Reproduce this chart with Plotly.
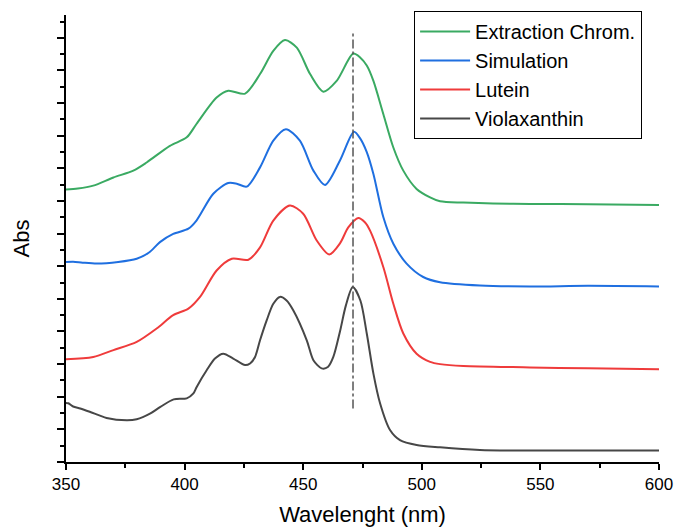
import plotly.graph_objects as go

# ---- data (wavelength in nm, absorbance in offset arbitrary units) ----
green_x = [350, 355, 361.5, 370, 378.4, 384, 393.8, 400.9, 405, 413.5, 418.4, 425.5, 431.8, 437.4,
           442.3, 447.3, 452.9, 458.5, 464.1, 471.1, 474, 476.8, 479.6, 483.8, 488, 492.2, 497.8, 503.5,
           507.7, 517.5, 530, 545.6, 570, 600]
green_y = [0.835, 0.838, 0.847, 0.872, 0.893, 0.918, 0.969, 0.995, 1.036, 1.117, 1.138, 1.129, 1.189,
           1.260, 1.293, 1.270, 1.189, 1.135, 1.168, 1.252, 1.240, 1.215, 1.168, 1.066, 0.964, 0.893,
           0.837, 0.811, 0.799, 0.795, 0.792, 0.791, 0.790, 0.788]

blue_x = [350, 353, 357, 363, 372, 379.8, 385, 389.6, 395.2, 401.6, 405, 412.1, 418.4, 422, 426.2,
          431.8, 437.4, 442.7, 448.6, 454.3, 459.2, 465.5, 471.4, 474, 476.8, 479.6, 483.8, 488, 493.6,
          500.6, 507.7, 524.5, 545.6, 570, 600]
blue_y = [0.613, 0.614, 0.611, 0.608, 0.613, 0.623, 0.642, 0.674, 0.699, 0.715, 0.740, 0.822, 0.855,
          0.853, 0.844, 0.903, 0.985, 1.020, 0.985, 0.893, 0.849, 0.924, 1.012, 0.992, 0.950, 0.883,
          0.750, 0.669, 0.608, 0.567, 0.551, 0.541, 0.538, 0.540, 0.538]

red_x = [350, 361.5, 370, 379.8, 388.2, 395.2, 401.6, 406.5, 413.5, 419.9, 426.9, 431.8, 437.4, 444.4,
         450, 455.7, 461, 465.5, 469, 473.2, 476, 478.2, 483.8, 488, 492.2, 497.8, 503.5, 507.7, 517.5,
         545.6, 570, 600]
red_y = [0.315, 0.322, 0.343, 0.368, 0.409, 0.450, 0.470, 0.506, 0.587, 0.623, 0.620, 0.658, 0.740,
         0.786, 0.761, 0.679, 0.636, 0.670, 0.719, 0.748, 0.735, 0.709, 0.597, 0.485, 0.394, 0.332,
         0.307, 0.300, 0.294, 0.290, 0.287, 0.284]

gray_x = [350, 351, 353, 356, 360, 367.1, 375.6, 379.8, 385.6, 389.8, 395.4, 400.9, 403.7, 405.1,
          409.3, 412.8, 416.3, 420.5, 425.5, 427.6, 429.7, 431.8, 434.6, 437.4, 440.2, 443, 445.8,
          451.5, 454.3, 457.8, 460.4, 462.7, 465.5, 468, 470.9, 474.1, 476.8, 479.6, 482.4, 486.6,
          490.8, 497.8, 507.7, 524.5, 545.6, 570, 600]
gray_y = [0.181, 0.180, 0.170, 0.164, 0.154, 0.135, 0.128, 0.131, 0.149, 0.169, 0.192, 0.195, 0.210,
          0.230, 0.281, 0.317, 0.332, 0.317, 0.297, 0.302, 0.322, 0.373, 0.434, 0.485, 0.506, 0.495,
          0.465, 0.373, 0.312, 0.287, 0.291, 0.322, 0.400, 0.480, 0.536, 0.495, 0.394, 0.271, 0.180,
          0.098, 0.067, 0.052, 0.045, 0.037, 0.035, 0.035, 0.035]

series_names = ["Extraction Chrom.", "Simulation", "Lutein", "Violaxanthin"]
series_colors = ["#3aaa62", "#1f6fe0", "#ef3b3b", "#474747"]

vline_x = [471, 471]
vline_y = [0.164, 1.313]

x_ticks = [350, 400, 450, 500, 550, 600]

FONT = "Arial, 'Liberation Sans', sans-serif"

fig = go.Figure()
for name, xs, ys, col in zip(series_names,
                             [green_x, blue_x, red_x, gray_x],
                             [green_y, blue_y, red_y, gray_y],
                             series_colors):
    fig.add_trace(go.Scatter(x=xs, y=ys, mode="lines", name=name,
                             line=dict(color=col, width=2, shape="spline", smoothing=0.8)))

fig.add_trace(go.Scatter(x=vline_x, y=vline_y, mode="lines", showlegend=False,
                         line=dict(color="#555555", width=1.5, dash="dashdot")))

fig.update_layout(
    width=674, height=527,
    margin=dict(l=66, r=15, t=14, b=65),
    paper_bgcolor="white", plot_bgcolor="white",
    font=dict(family=FONT, color="black", size=17),
    legend=dict(x=0.587, y=1.0067, xanchor="left", yanchor="top",
                bordercolor="black", borderwidth=1, bgcolor="white",
                font=dict(size=20, family=FONT), tracegroupgap=0, itemwidth=50),
    xaxis=dict(range=[350, 600], tickvals=x_ticks, ticks="outside", ticklen=6, tickwidth=1.5,
               showline=True, linecolor="black", linewidth=1.5, showgrid=False, zeroline=False,
               automargin=False,
               minor=dict(dtick=25, ticks="outside", ticklen=4, tickwidth=1.5, tickcolor="black", showgrid=False),
               tickfont=dict(size=17), tickcolor="black",
               title=dict(text="Wavelenght (nm)", font=dict(size=22), standoff=13)),
    yaxis=dict(range=[0, 1.37], dtick=0.1, tick0=0, ticks="outside", ticklen=7, tickwidth=1.5,
               showticklabels=False, showline=True, linecolor="black", linewidth=1.5,
               showgrid=False, zeroline=False, tickcolor="black", automargin=False,
               minor=dict(dtick=0.05, ticks="outside", ticklen=4, tickwidth=1.5, tickcolor="black", showgrid=False),
               title=dict(text="Abs", font=dict(size=22), standoff=22)),
)

# remove the browser's default 8px body margin so the figure fills the window exactly
fig.write_html("out.html", config={"displayModeBar": False},
               post_script="document.body.style.margin='0';document.body.style.overflow='hidden';")
